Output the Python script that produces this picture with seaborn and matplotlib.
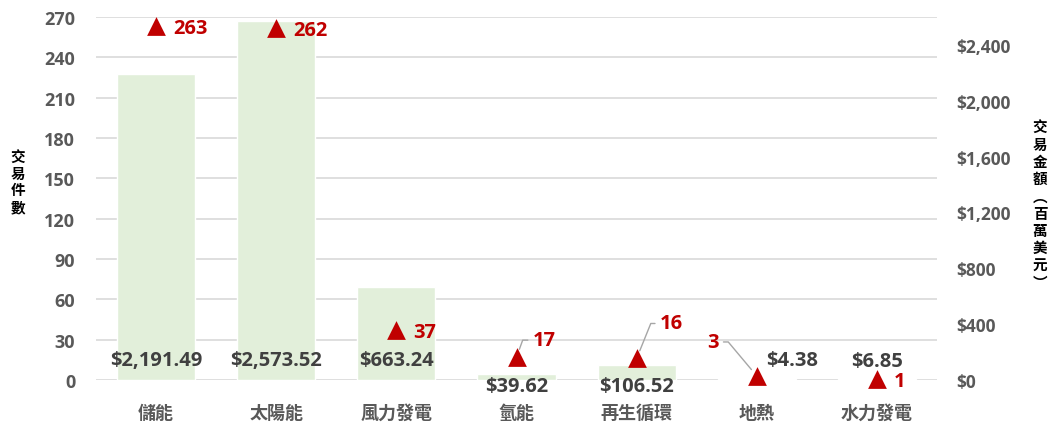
import numpy as np
import seaborn as sns
import matplotlib.pyplot as plt
from matplotlib.ticker import FuncFormatter

# 資料
cats = ["儲能", "太陽能", "風力發電", "氫能", "再生循環", "地熱", "水力發電"]
amounts = [2191.49, 2573.52, 663.24, 39.62, 106.52, 4.38, 6.85]   # 交易金額 (百萬美元)
counts = [263, 262, 37, 17, 16, 3, 1]                              # 交易件數
count_ticks = list(range(0, 271, 30))
amount_ticks = list(range(0, 2401, 400))

sns.set_theme(style="white")
plt.rcParams["font.family"] = ["Open Sans", "Noto Sans CJK TC", "DejaVu Sans"]
plt.rcParams["font.weight"] = "bold"

GREEN = "#e2efda"
RED = "#c00000"
GRAY = "#595959"
DARK = "#404040"

fig = plt.figure(figsize=(10.56, 4.39), dpi=100)
ax = fig.add_axes([96 / 1056, 1 - 381 / 439, 841 / 1056, 363 / 439])
ax2 = ax.twinx()   # bars
ax3 = ax.twinx()   # triangles

# left axis: counts + grid
ax.set_ylim(0, 270)
ax.set_yticks(count_ticks)
ax.grid(axis="y", color="#d9d9d9", lw=1.2)
ax.grid(axis="x", visible=False)

# bars on right axis
sns.barplot(x=cats, y=amounts, color=GREEN, width=0.65, saturation=1, ax=ax2)
ax2.set_ylim(0, 2600)
ax2.set_yticks(amount_ticks)
ax2.yaxis.set_major_formatter(FuncFormatter(lambda v, p: f"${v:,.0f}"))
ax2.set_ylabel("")
ax2.set_xlabel("")

# triangles
sns.stripplot(x=cats, y=counts, jitter=False, marker="^", size=13.5,
              color=RED, linewidth=0, ax=ax3)
for col in ax3.collections:
    col.set_clip_on(False)
ax3.set_ylim(0, 270)
ax3.yaxis.set_visible(False)
ax3.set_xlabel("")
ax3.set_ylabel("")

for a in (ax, ax2, ax3):
    for s in a.spines.values():
        s.set_visible(False)
    a.set_xlim(-0.5, len(cats) - 0.5)

ax.set_xticks(range(len(cats)))
ax.set_xticklabels(cats)
ax.tick_params(axis="x", length=0, pad=17, labelsize=13, labelcolor=GRAY)
ax.tick_params(axis="y", length=0, pad=15, labelsize=13, labelcolor=GRAY)
ax2.tick_params(axis="y", length=0, pad=14, labelsize=12.5, labelcolor=GRAY)

# bar value labels (offset pixels from the bar base)
bar_off = [(0, 20), (0, 20), (0, 20), (0, -6), (0, -6), (35, 20), (0, 19)]
for i, (v, off) in enumerate(zip(amounts, bar_off)):
    ax2.annotate(f"${v:,.2f}", (i, 0), xytext=off, textcoords="offset pixels",
                 ha="center", va="center", fontsize=14.5, color=DARK,
                 fontweight="bold")

# count labels
lead = dict(arrowstyle="-", color="#a6a6a6", lw=1, shrinkA=1, shrinkB=6)
for i, c in enumerate(counts):
    if c == 17:
        ax3.annotate(str(c), (i, c), xytext=(16, 17), textcoords="offset pixels",
                     ha="left", va="center", fontsize=14.5, color=RED, fontweight="bold",
                     arrowprops=dict(lead, relpos=(0, 0.5),
                                     connectionstyle="angle,angleA=0,angleB=70,rad=0"))
    elif c == 16:
        ax3.annotate(str(c), (i, c), xytext=(23, 35), textcoords="offset pixels",
                     ha="left", va="center", fontsize=14.5, color=RED, fontweight="bold",
                     arrowprops=dict(lead, relpos=(0, 0.5),
                                     connectionstyle="angle,angleA=0,angleB=68,rad=0"))
    elif c == 3:
        ax3.annotate(str(c), (i, c), xytext=(-38, 34), textcoords="offset pixels",
                     ha="right", va="center", fontsize=14.5, color=RED, fontweight="bold",
                     arrowprops=dict(lead, relpos=(1, 0.5),
                                     connectionstyle="angle,angleA=0,angleB=130,rad=0"))
    else:
        ax3.annotate(str(c), (i, c), xytext=(17, -2), textcoords="offset pixels",
                     ha="left", va="center", fontsize=14.5, color=RED, fontweight="bold")

# axis titles, stacked vertically
fig.text(18 / 1056, 1 - 182 / 439, "\n".join("交易件數"), ha="center", va="center",
         fontsize=10.5, color="black", fontweight="bold", linespacing=1.05,
         family=["Noto Sans CJK TC"])
fig.text(1040 / 1056, 1 - 205 / 439, "\n".join("交易金額︵百萬美元︶"), ha="center",
         va="center", fontsize=10.5, color="black", fontweight="bold", linespacing=1.1,
         family=["Noto Sans CJK TC"])

plt.savefig("out.png", dpi=100)
